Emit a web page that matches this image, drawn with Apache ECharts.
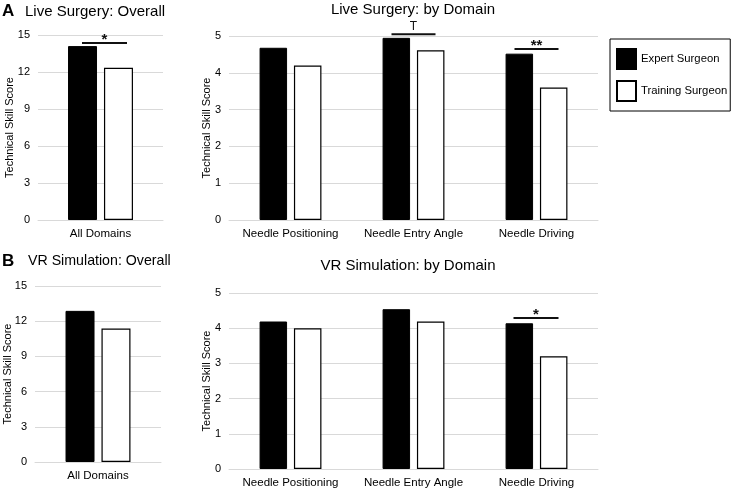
<!DOCTYPE html>
<html>
<head>
<meta charset="utf-8">
<script src="https://cdn.jsdelivr.net/npm/echarts@6/dist/echarts.min.js"></script>
<style>
html,body{margin:0;padding:0;background:#fff;}
#chart{width:736px;height:490px;}
</style>
</head>
<body>
<div id="chart"></div>
<script>
// ---- data ----
const categoriesOverall = ['All Domains'];
const categoriesDomain = ['Needle Positioning', 'Needle Entry Angle', 'Needle Driving'];
const seriesNames = ['Expert Surgeon', 'Training Surgeon'];

const liveOverallExpert = [14.1];
const liveOverallTraining = [12.35];
const liveDomainExpert = [4.68, 4.95, 4.52];
const liveDomainTraining = [4.2, 4.61, 3.6];

const vrOverallExpert = [12.88];
const vrOverallTraining = [11.38];
const vrDomainExpert = [4.19, 4.54, 4.14];
const vrDomainTraining = [4.0, 4.19, 3.2];

// significance markers: [category index, bracket value, label]
const liveOverallSig = [[0, 14.35, '*']];
const liveDomainSig = [[1, 5.05, 'T'], [2, 4.65, '**']];
const vrOverallSig = [];
const vrDomainSig = [[2, 4.29, '*']];

const overallTicks = {min: 0, max: 15, interval: 3};
const domainTicks = {min: 0, max: 5, interval: 1};
const yTitle = 'Technical Skill Score';

// ---- chart ----
const FONT = 'Liberation Sans, Arial, sans-serif';
const gridColor = '#d9d9d9';
const textColor = '#000';

const chart = echarts.init(document.getElementById('chart'), null, {renderer: 'canvas'});

function xAxisFor(idx, cats) {
  return {
    type: 'category', gridIndex: idx, data: cats,
    axisLine: {show: true, lineStyle: {color: gridColor, width: 1}},
    axisTick: {show: false},
    axisLabel: {color: textColor, fontSize: 11.5, fontFamily: FONT, margin: 8, interval: 0}
  };
}
function yAxisFor(idx, ticks) {
  return {
    type: 'value', gridIndex: idx, min: ticks.min, max: ticks.max, interval: ticks.interval,
    position: 'left',
    axisLine: {show: false}, axisTick: {show: false},
    splitLine: {lineStyle: {color: gridColor, width: 1}},
    axisLabel: {color: textColor, fontSize: 11, fontFamily: FONT, margin: 8}
  };
}
// companion axis carrying only the axis title
function yNameAxisFor(idx, ticks, gap) {
  return {
    type: 'value', gridIndex: idx, min: ticks.min, max: ticks.max, interval: ticks.interval,
    position: 'left', offset: 0,
    name: yTitle, nameLocation: 'middle', nameGap: gap,
    nameTextStyle: {color: textColor, fontSize: 11, fontFamily: FONT},
    axisLine: {show: false}, axisTick: {show: false}, splitLine: {show: false},
    axisLabel: {show: false}
  };
}
function barsFor(idx, expert, training, bw, gap) {
  return [
    {name: seriesNames[0], type: 'bar', xAxisIndex: idx, yAxisIndex: idx, data: expert,
     barWidth: bw, barGap: gap, itemStyle: {color: '#000', borderColor: '#000', borderWidth: 1}, silent: true},
    {name: seriesNames[1], type: 'bar', xAxisIndex: idx, yAxisIndex: idx, data: training,
     barWidth: bw, barGap: gap, itemStyle: {color: '#fff', borderColor: '#000', borderWidth: 1.2}, silent: true}
  ];
}
function sigFor(idx, data, leftOff, rightOff) {
  return {
    type: 'custom', xAxisIndex: idx, yAxisIndex: idx, data: data, clip: false, silent: true,
    renderItem: function (params, api) {
      const p = api.coord([api.value(0), api.value(1)]);
      const label = data[params.dataIndex][2];
      const x1 = p[0] - leftOff, x2 = p[0] + rightOff;
      const isStar = label.indexOf('*') >= 0;
      return {
        type: 'group',
        children: [
          {type: 'line', shape: {x1: x1, y1: p[1], x2: x2, y2: p[1]},
           style: {stroke: '#111', lineWidth: 2}},
          {type: 'text', x: (x1 + x2) / 2, y: isStar ? p[1] + 4 : p[1] - 1,
           style: {text: label, fill: '#111', fontFamily: FONT,
                   fontSize: isStar ? 15 : 12, fontWeight: isStar ? 'bold' : 'normal',
                   align: 'center', verticalAlign: 'bottom'}}
        ]
      };
    }
  };
}

const titleStyle = {color: textColor, fontSize: 15, fontWeight: 'normal', fontFamily: FONT};
const letterStyle = {color: '#000', fontSize: 17, fontWeight: 'bold', fontFamily: FONT};

const option = {
  backgroundColor: '#fff',
  animation: false,
  title: [
    {text: 'A', left: 2, top: 3, textStyle: letterStyle, padding: 0},
    {text: 'Live Surgery: Overall', left: 25, top: 4, textStyle: titleStyle, padding: 0},
    {text: 'Live Surgery: by Domain', left: 413, top: 2, textAlign: 'center', textStyle: titleStyle, padding: 0},
    {text: 'B', left: 2, top: 253, textStyle: letterStyle, padding: 0},
    {text: 'VR Simulation: Overall', left: 28, top: 254, textStyle: Object.assign({}, titleStyle, {fontSize: 14.2}), padding: 0},
    {text: 'VR Simulation: by Domain', left: 408, top: 258, textAlign: 'center', textStyle: titleStyle, padding: 0}
  ],
  legend: {
    data: seriesNames, orient: 'vertical', left: 610, top: 39,
    icon: 'rect', itemWidth: 19, itemHeight: 20, itemGap: 10,
    padding: [9, 3, 9, 6], borderColor: '#000', borderWidth: 1,
    selectedMode: false,
    textStyle: {color: textColor, fontSize: 11.3, fontFamily: FONT}
  },
  grid: [
    {left: 38, top: 35, width: 125, height: 185},
    {left: 229, top: 36, width: 369, height: 184},
    {left: 35, top: 286, width: 126, height: 176},
    {left: 229, top: 293, width: 369, height: 176}
  ],
  xAxis: [
    xAxisFor(0, categoriesOverall),
    xAxisFor(1, categoriesDomain),
    xAxisFor(2, categoriesOverall),
    xAxisFor(3, categoriesDomain)
  ],
  yAxis: [
    yAxisFor(0, overallTicks),
    yAxisFor(1, domainTicks),
    yAxisFor(2, overallTicks),
    yAxisFor(3, domainTicks),
    yNameAxisFor(0, overallTicks, 23),
    yNameAxisFor(1, domainTicks, 16.5),
    yNameAxisFor(2, overallTicks, 21.5),
    yNameAxisFor(3, domainTicks, 17)
  ],
  series: [].concat(
    barsFor(0, liveOverallExpert, liveOverallTraining, 29, '24%'),
    barsFor(1, liveDomainExpert, liveDomainTraining, 27.5, '25%'),
    barsFor(2, vrOverallExpert, vrOverallTraining, 29, '24%'),
    barsFor(3, vrDomainExpert, vrDomainTraining, 27.5, '25%'),
    [sigFor(0, liveOverallSig, 18.5, 26.5),
     sigFor(1, liveDomainSig, 22, 22),
     sigFor(2, vrOverallSig, 18.5, 26.5),
     sigFor(3, vrDomainSig, 23, 22)]
  )
};
chart.setOption(option);
</script>
</body>
</html>
